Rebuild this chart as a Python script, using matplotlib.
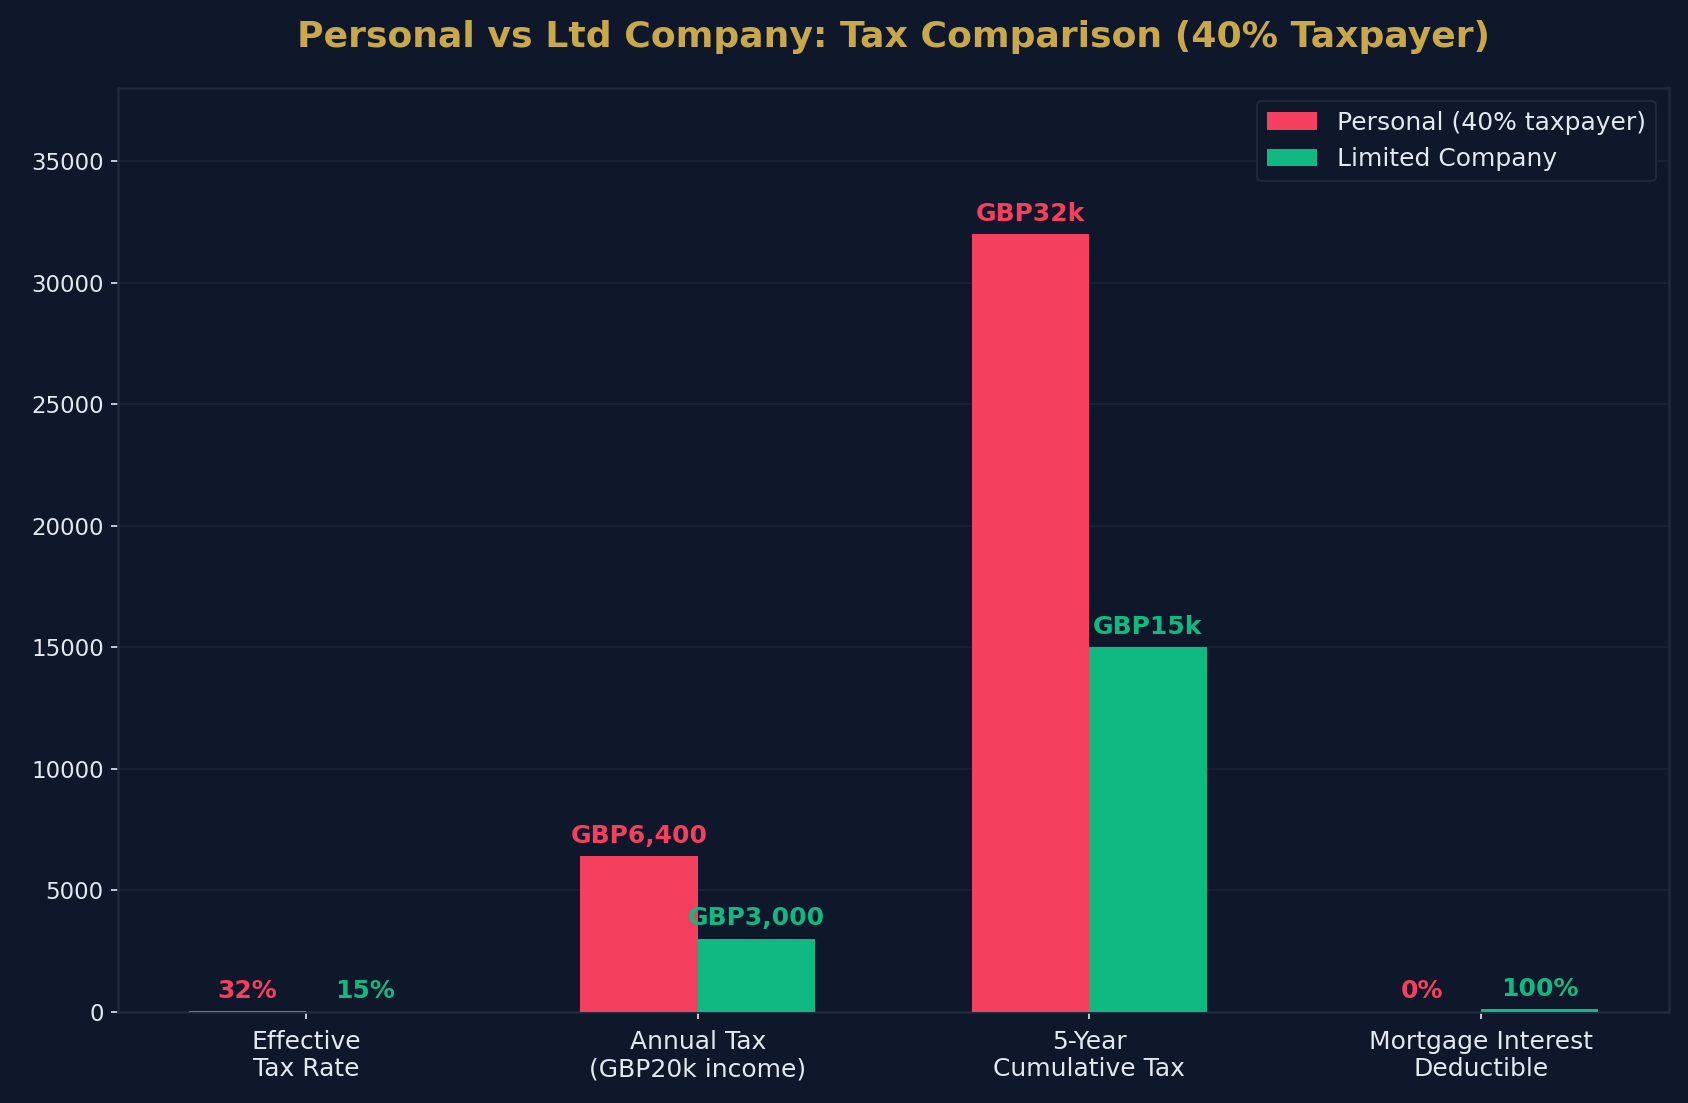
import matplotlib
matplotlib.use("Agg")
import matplotlib.pyplot as plt
import numpy as np

categories = ["Effective\nTax Rate", "Annual Tax\n(GBP20k income)", "5-Year\nCumulative Tax", "Mortgage Interest\nDeductible"]
personal = [32, 6400, 32000, 0]
limited = [15, 3000, 15000, 100]
personal_labels = ["32%", "GBP6,400", "GBP32k", "0%"]
limited_labels = ["15%", "GBP3,000", "GBP15k", "100%"]
series_names = ["Personal (40% taxpayer)", "Limited Company"]

BG = "#0F172A"
RED = "#F43F5E"
GREEN = "#10B981"
GOLD = "#C9A84C"
TXT = "#E2E8F0"
EDGE = "#1E293B"

fig = plt.figure(figsize=(1688/150, 1103/150), dpi=150, facecolor=BG)
ax = fig.add_axes([0.0701, 0.0826, 0.9885-0.0701, 0.920-0.0826])
ax.set_facecolor(BG)

x = np.arange(len(categories))
w = 0.3
ax.bar(x - w/2, personal, w, color=RED, label=series_names[0], zorder=3)
ax.bar(x + w/2, limited, w, color=GREEN, label=series_names[1], zorder=3)

for xi, h, lab in zip(x - w/2, personal, personal_labels):
    ax.text(xi, h + 350, lab, ha="center", va="bottom", color=RED, fontsize=12, fontweight="bold", zorder=4)
for xi, h, lab in zip(x + w/2, limited, limited_labels):
    ax.text(xi, h + 350, lab, ha="center", va="bottom", color=GREEN, fontsize=12, fontweight="bold", zorder=4)

ax.set_ylim(0, 38000)
ax.set_xticks(x)
ax.set_xticklabels(categories, fontsize=12, color=TXT)
ax.tick_params(axis="both", colors=TXT, labelsize=11)
ax.tick_params(axis="x", labelsize=12, pad=5)
ax.set_yticks(np.arange(0, 35001, 5000))
ax.yaxis.grid(True, color=EDGE, linewidth=0.8, alpha=0.8, zorder=0)
ax.set_axisbelow(True)
for s in ax.spines.values():
    s.set_color(EDGE)
    s.set_linewidth(1.2)

ax.set_title("Personal vs Ltd Company: Tax Comparison (40% Taxpayer)", color=GOLD,
             fontsize=17.4, fontweight="bold", pad=20)

ax.legend(loc="upper right", fontsize=12, facecolor=BG, edgecolor=EDGE, labelcolor=TXT, framealpha=1)

fig.savefig("out.png", dpi=150, facecolor=BG)
